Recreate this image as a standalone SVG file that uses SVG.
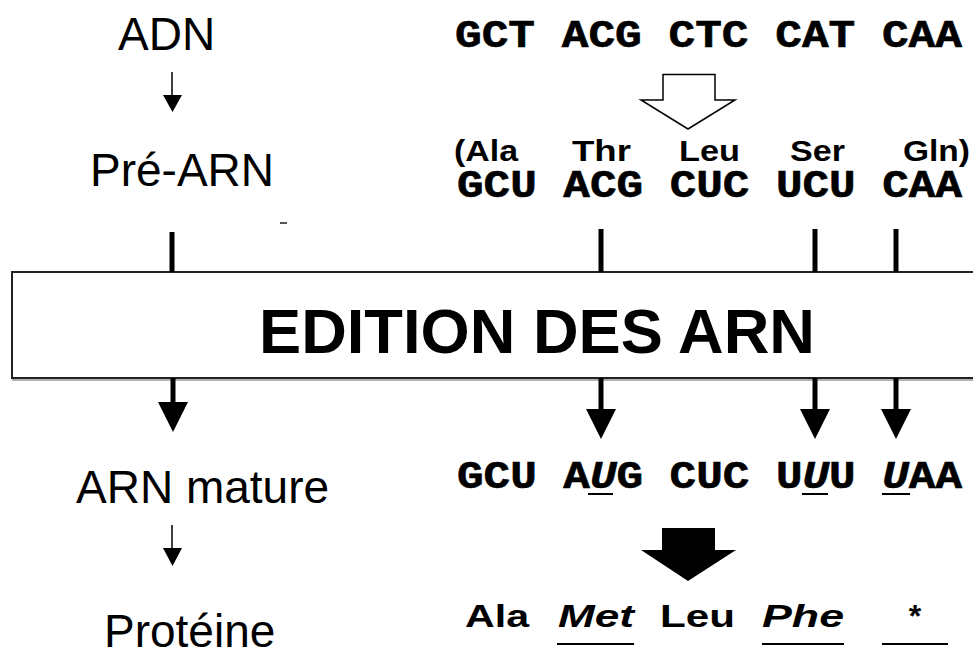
<svg xmlns="http://www.w3.org/2000/svg" width="973" height="656" viewBox="0 0 973 656">
<style>
.lbl{font-family:"Liberation Sans",Arial,sans-serif;font-size:46px;fill:#000}
.aa{font-family:"Liberation Sans",Arial,sans-serif;font-weight:bold;font-size:32px;fill:#000}
.aa2{font-family:"Liberation Sans",Arial,sans-serif;font-weight:bold;font-size:29px;fill:#000}
.cod{font-family:"Liberation Mono","Courier New",monospace;font-weight:bold;font-size:38px;fill:#000;stroke:#000;stroke-width:0.6}
.bar{stroke:#000;stroke-width:5;fill:none}
.thin{stroke:#000;stroke-width:1.5;fill:none}
.ul{stroke:#000;stroke-width:2}
</style>
<rect width="973" height="656" fill="#fff"/>
<g id="labels">
<text class="lbl" x="118" y="50">ADN</text>
<text class="lbl" x="90" y="186">Pré-ARN</text>
<text class="lbl" x="76" y="503">ARN mature</text>
<text class="lbl" x="104" y="647">Protéine</text>
</g>
<g id="box">
<rect x="13" y="274" width="1000" height="106" fill="none" stroke="#999" stroke-width="1.5"/>
<rect x="12" y="272" width="1000" height="106" fill="#fff" stroke="#222" stroke-width="2"/>
<text x="259" y="353" font-family="'Liberation Sans',Arial,sans-serif" font-weight="bold" font-size="63" textLength="556" lengthAdjust="spacingAndGlyphs">EDITION DES ARN</text>
</g>
<g id="dna">
<text class="cod" x="455" y="47" textLength="507" lengthAdjust="spacingAndGlyphs">GCT ACG CTC CAT CAA</text>
</g>
<g id="prerna">
<text class="aa2" x="454" y="161" textLength="64" lengthAdjust="spacingAndGlyphs">(Ala</text>
<text class="aa2" x="572" y="161" textLength="59" lengthAdjust="spacingAndGlyphs">Thr</text>
<text class="aa2" x="679" y="161" textLength="61" lengthAdjust="spacingAndGlyphs">Leu</text>
<text class="aa2" x="790" y="161" textLength="55" lengthAdjust="spacingAndGlyphs">Ser</text>
<text class="aa2" x="903" y="161" textLength="67" lengthAdjust="spacingAndGlyphs">Gln)</text>
<text class="cod" x="457" y="197" textLength="505" lengthAdjust="spacingAndGlyphs">GCU ACG CUC UCU CAA</text>
</g>
<g id="mrna">
<text class="cod" x="457" y="488" textLength="505" lengthAdjust="spacingAndGlyphs">GCU A<tspan font-style="italic">U</tspan>G CUC U<tspan font-style="italic">U</tspan>U <tspan font-style="italic">U</tspan>AA</text>
<line class="ul" x1="588" y1="494" x2="613" y2="494"/>
<line class="ul" x1="802" y1="494" x2="828" y2="494"/>
<line class="ul" x1="882" y1="494" x2="910" y2="494"/>
</g>
<g id="protein">
<text class="aa" x="465" y="627" textLength="64" lengthAdjust="spacingAndGlyphs">Ala</text>
<text class="aa" x="558" y="627" font-style="italic" textLength="76" lengthAdjust="spacingAndGlyphs">Met</text>
<text class="aa" x="660" y="627" textLength="75" lengthAdjust="spacingAndGlyphs">Leu</text>
<text class="aa" x="762" y="627" font-style="italic" textLength="82" lengthAdjust="spacingAndGlyphs">Phe</text>
<text class="aa" x="915" y="627" text-anchor="middle">*</text>
<line class="ul" x1="557" y1="644" x2="634" y2="644"/>
<line class="ul" x1="762" y1="644" x2="844" y2="644"/>
<line class="ul" x1="882" y1="644" x2="948" y2="644"/>
</g>
<g id="connectors">
<line class="thin" x1="172" y1="72" x2="172" y2="96"/>
<polygon points="163,95 182,95 172.5,112" fill="#000"/>
<line class="thin" x1="172" y1="525" x2="172" y2="549"/>
<polygon points="163,548 182,548 172.5,566" fill="#000"/>
<rect x="280" y="222" width="7" height="2" fill="#555"/>
<line class="bar" x1="172" y1="232" x2="172" y2="272"/>
<line class="bar" x1="601" y1="229" x2="601" y2="272"/>
<line class="bar" x1="815" y1="229" x2="815" y2="272"/>
<line class="bar" x1="896" y1="229" x2="896" y2="272"/>
<line class="bar" x1="173" y1="378" x2="173" y2="404"/>
<polygon points="158,402 188,402 173,432" fill="#000"/>
<line class="bar" x1="601" y1="378" x2="601" y2="411"/>
<polygon points="586,409 616,409 601,439" fill="#000"/>
<line class="bar" x1="815" y1="378" x2="815" y2="411"/>
<polygon points="800,409 830,409 815,439" fill="#000"/>
<line class="bar" x1="896" y1="378" x2="896" y2="411"/>
<polygon points="881,409 911,409 896,439" fill="#000"/>
<polygon points="663,74.5 715,74.5 715,100 735,100 688,129 641,100 663,100 Z" fill="#fff" stroke="#000" stroke-width="1.5"/>
<polygon points="662,528 715,528 715,550 736,550 688,581 641,550 662,550 Z" fill="#000"/>
</g>
</svg>
